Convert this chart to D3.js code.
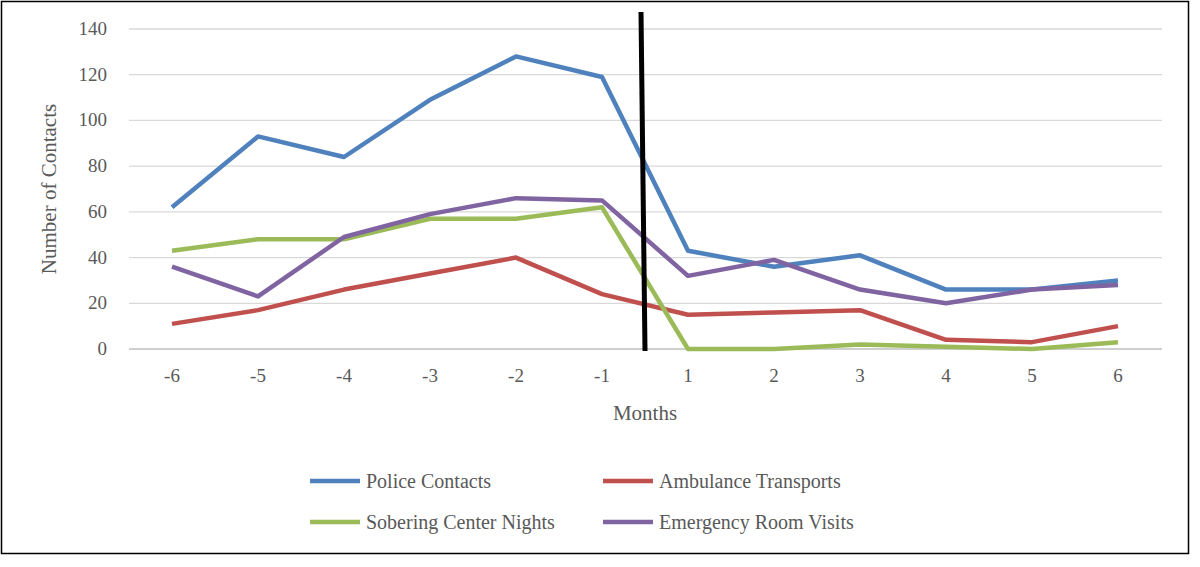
<!DOCTYPE html>
<html><head><meta charset="utf-8">
<script src="https://cdn.jsdelivr.net/npm/d3@7"></script>
<style>body{margin:0;background:#fff}svg{display:block}</style>
</head><body>
<svg id="c" width="1200" height="567"></svg>
<script>
const months = ["-6","-5","-4","-3","-2","-1","1","2","3","4","5","6"];
const police = [62,93,84,109,128,119,43,36,41,26,26,30];
const ambulance = [11,17,26,33,40,24,15,16,17,4,3,10];
const sobering = [43,48,48,57,57,62,0,0,2,1,0,3];
const er = [36,23,49,59,66,65,32,39,26,20,26,28];
const yTicks = [0,20,40,60,80,100,120,140];
const seriesList = [
  {name:"Police Contacts", values:police, color:"#4f81bd"},
  {name:"Ambulance Transports", values:ambulance, color:"#c0504d"},
  {name:"Sobering Center Nights", values:sobering, color:"#9bbb59"},
  {name:"Emergency Room Visits", values:er, color:"#8064a2"}
];
const svg = d3.select("#c");
const font = "'Liberation Serif', serif";
svg.append("rect").attr("x",1.5).attr("y",1.5).attr("width",1187).attr("height",552)
  .attr("fill","none").attr("stroke","#000").attr("stroke-width",1.5);
const x = d3.scalePoint().domain(months).range([172,1118]).padding(0);
const y = d3.scaleLinear().domain([0,140]).range([349,29]);
const L=129, R=1162;
svg.append("g").selectAll("line").data(yTicks).join("line")
  .attr("x1",L).attr("x2",R).attr("y1",d=>y(d)).attr("y2",d=>y(d))
  .attr("stroke",d=>d===0?"#bfbfbf":"#d9d9d9").attr("stroke-width",1.3);
svg.append("g").selectAll("text").data(yTicks).join("text")
  .attr("x",107).attr("y",d=>y(d)+6).attr("text-anchor","end")
  .attr("font-family",font).attr("font-size",19).attr("fill","#595959").text(d=>d);
svg.append("g").selectAll("text").data(months).join("text")
  .attr("x",d=>x(d)).attr("y",382).attr("text-anchor","middle")
  .attr("font-family",font).attr("font-size",19).attr("fill","#595959").text(d=>d);
svg.append("text").attr("x",645).attr("y",420).attr("text-anchor","middle")
  .attr("font-family",font).attr("font-size",21).attr("fill","#595959").text("Months");
svg.append("text").attr("transform","translate(56,189) rotate(-90)").attr("text-anchor","middle")
  .attr("font-family",font).attr("font-size",21).attr("fill","#595959").text("Number of Contacts");
const line = d3.line().x((d,i)=>x(months[i])).y(d=>y(d));
seriesList.forEach(s=>{
  svg.append("path").attr("d",line(s.values)).attr("fill","none")
    .attr("stroke",s.color).attr("stroke-width",4.5).attr("stroke-linejoin","round");
});
svg.append("line").attr("x1",641).attr("y1",12).attr("x2",645).attr("y2",351)
  .attr("stroke","#000").attr("stroke-width",5);
const legPos = [[310,481],[603,481],[310,522],[603,522]];
seriesList.forEach((s,i)=>{
  const [lx,ly]=legPos[i];
  svg.append("line").attr("x1",lx).attr("x2",lx+50).attr("y1",ly).attr("y2",ly)
    .attr("stroke",s.color).attr("stroke-width",4.5);
  svg.append("text").attr("x",lx+56).attr("y",ly+7).attr("font-family",font)
    .attr("font-size",20).attr("fill","#595959").text(s.name);
});
</script>
</body></html>
